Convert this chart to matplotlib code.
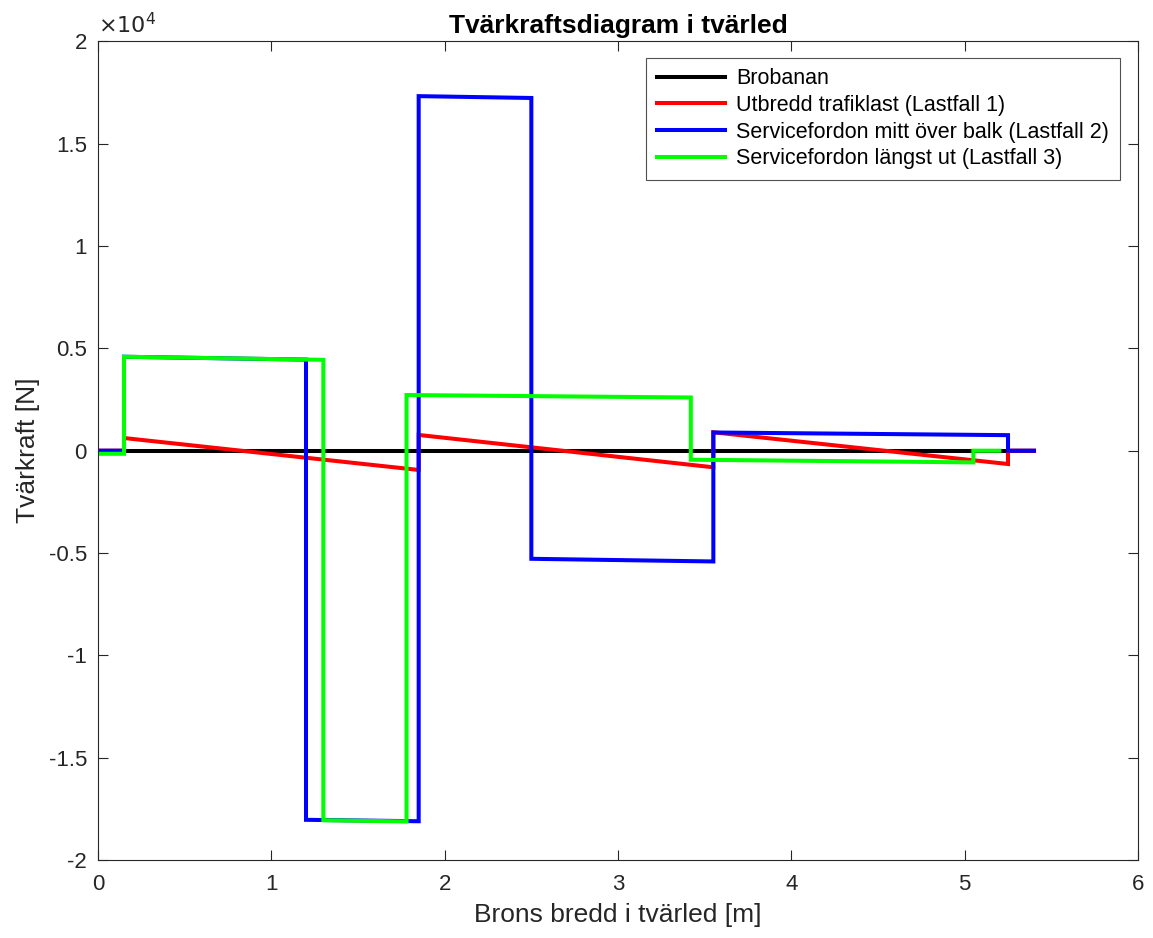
import matplotlib
matplotlib.use("Agg")
import matplotlib.pyplot as plt
from matplotlib.ticker import FuncFormatter, MultipleLocator

plt.rcParams['font.family'] = ['Liberation Sans', 'DejaVu Sans']
plt.rcParams['axes.unicode_minus'] = False

# shear force along the deck width, x in m, V in N
x_bro = [0, 5.4]
v_bro = [0, 0]

x_lf1 = [0, 0.15, 0.15, 1.85, 1.85, 3.55, 3.55, 5.25, 5.25, 5.4]
v_lf1 = [0, 0, 620, -940, 770, -810, 900, -650, 0, 0]

x_lf2 = [0, 0.15, 0.15, 1.2, 1.2, 1.85, 1.85, 2.5, 2.5, 3.55, 3.55, 5.25, 5.25, 5.4]
v_lf2 = [0, 0, 4590, 4450, -18030, -18100, 17320, 17230, -5280, -5410, 890, 760, 0, 0]

x_lf3 = [0, 0.15, 0.15, 1.3, 1.3, 1.78, 1.78, 3.42, 3.42, 5.05, 5.05, 5.2]
v_lf3 = [-150, -150, 4590, 4440, -18050, -18110, 2720, 2600, -440, -570, 0, 0]

labels = ['Brobanan',
          'Utbredd trafiklast (Lastfall 1)',
          'Servicefordon mitt över balk (Lastfall 2)',
          'Servicefordon längst ut (Lastfall 3)']
colors = ['k', 'r', 'b', '#00ff00']

fig = plt.figure(figsize=(11.53, 9.38), dpi=100)
ax = fig.add_axes([0.085, 0.083, 0.902, 0.873])

lw = 2.9
for xs, vs, c, lab in zip([x_bro, x_lf1, x_lf2, x_lf3],
                          [v_bro, v_lf1, v_lf2, v_lf3], colors, labels):
    ax.plot(xs, vs, color=c, lw=lw, label=lab, solid_joinstyle='miter')

ax.set_xlim(0, 6)
ax.set_ylim(-2e4, 2e4)
ax.xaxis.set_major_locator(MultipleLocator(1))
ax.yaxis.set_major_locator(MultipleLocator(5000))
ax.yaxis.set_major_formatter(FuncFormatter(lambda v, p: '%g' % (v / 1e4)))

ax.tick_params(direction='in', top=True, right=True, length=7, width=0.8,
               labelsize=16, colors='#262626', pad=8)
ax.tick_params(axis='x', pad=10)
for s in ax.spines.values():
    s.set_color('#262626')
    s.set_linewidth(0.8)

ax.text(0.0, 1.004, r'$\times10^4$', transform=ax.transAxes, fontsize=16,
        color='#262626', ha='left', va='bottom')

ax.set_title('Tvärkraftsdiagram i tvärled', fontsize=19, fontweight='bold', pad=6)
ax.set_xlabel('Brons bredd i tvärled [m]', fontsize=19, color='#262626', labelpad=6)
ax.set_ylabel('Tvärkraft [N]', fontsize=19, color='#262626', labelpad=6)

leg = ax.legend(loc='upper right', bbox_to_anchor=(0.9825, 0.98), fontsize=15.5,
                frameon=True, fancybox=False, handlelength=3.2, borderpad=0.5,
                labelspacing=0.26, handletextpad=0.5, borderaxespad=0)
leg.get_frame().set_edgecolor('#262626')
leg.get_frame().set_linewidth(0.8)

fig.savefig('out.png', dpi=100)
